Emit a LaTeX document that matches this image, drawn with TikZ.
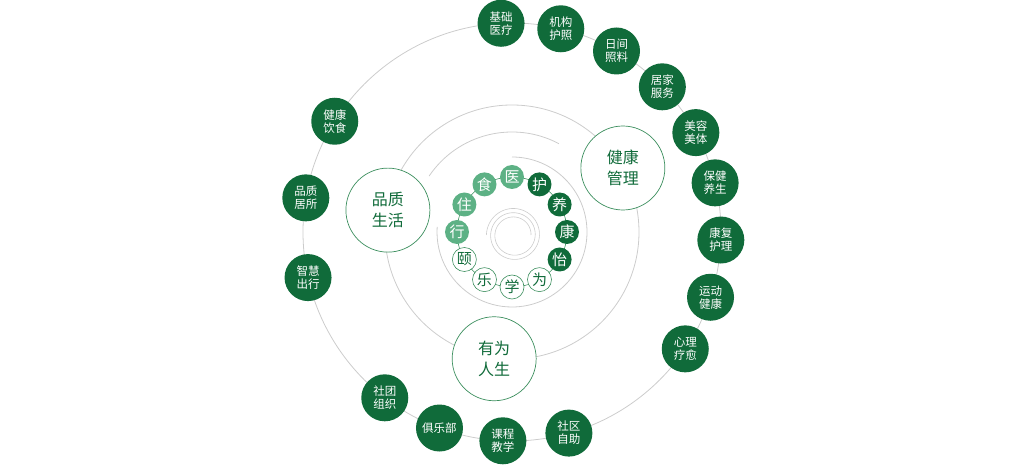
\documentclass[tikz,border=0pt]{standalone}
\usepackage{fontspec}
\setmainfont{Noto Sans CJK SC}
\definecolor{darkgreen}{RGB}{16,107,58}
\definecolor{lightgreen}{RGB}{93,177,133}
\definecolor{linegreen}{RGB}{60,143,94}
\definecolor{ringgray}{RGB}{204,204,204}
\tikzset{service/.style={circle, fill=darkgreen, text=white, minimum size=47pt, inner sep=0pt, align=center, font=\fontsize{11.5}{13}\selectfont},
  theme/.style={circle, draw=linegreen, line width=0.7pt, fill=white, text=darkgreen, minimum size=84pt, inner sep=0pt, align=center, font=\fontsize{16}{20.5}\selectfont},
  word/.style={circle, minimum size=24pt, inner sep=0pt, font=\fontsize{15}{15}\selectfont},
  wordlight/.style={word, fill=lightgreen, text=white},
  worddark/.style={word, fill=darkgreen, text=white},
  wordline/.style={word, draw=linegreen, line width=0.6pt, fill=white, text=darkgreen},
  ring/.style={draw=ringgray, line width=0.8pt}}

\begin{document}
\begin{tikzpicture}[x=1pt, y=1pt]
    \useasboundingbox (-512,-233) rectangle (518,232);
    \coordinate (o) at (0,0);
    % spiral rings
    \draw[ring] (o) circle (209);
    \draw[ring] (o) circle (127);
    \draw[ring] (146:100) arc (146:62:100);
    \draw[ring] (90:75) arc (90:-184:75);
    \draw[ring, line width=0.6pt, shift={(2,-3)}] plot[domain=0:900, samples=150, smooth] ({(17+\x/85)*cos(\x)}, {(17+\x/85)*sin(\x)});
    \draw[linegreen, line width=0.6pt] (o) circle (55);
    % outer services
    \foreach \ang/\name/\txt in {93/jichu/基础\\医疗, 76.5/jigou/机构\\护照, 60/rijian/日间\\照料, 44/jujia/居家\\服务,
        28.4/meirong/美容\\美体, 13.6/baojian/保健\\养生, -2.2/kangfu/康复\\护理, -18.2/yundong/运动\\健康,
        -34/xinli/心理\\疗愈, -74.2/shequ/社区\\自助, -92.5/kecheng/课程\\教学, -110.3/julebu/俱乐部,
        -127.5/shetuan/社团\\组织, -167.4/zhihui/智慧\\出行, 170.6/pinzhi/品质\\居所, 148/yinshi/健康\\饮食}
      \node[service] (\name) at (\ang:209) {\txt};
    % themes
    \node[theme] (guanli) at (30:128) {健康\\管理};
    \node[theme] (rensheng) at (-98:128) {有为\\人生};
    \node[theme] (shenghuo) at (170:126) {品质\\生活};
    % inner words
    \foreach \ang/\name/\ch/\sty in {90/yi/医/wordlight, 120/shi/食/wordlight, 150/zhu/住/wordlight, 180/xing/行/wordlight,
        60/hu/护/worddark, 30/yang/养/worddark, 0/kang/康/worddark, -30/yiyue/怡/worddark,
        -60/wei/为/wordline, -90/xue/学/wordline, -120/le/乐/wordline, -150/yiyang/颐/wordline}
      \node[\sty] (\name) at (\ang:55) {\ch};
\end{tikzpicture}
\end{document}
